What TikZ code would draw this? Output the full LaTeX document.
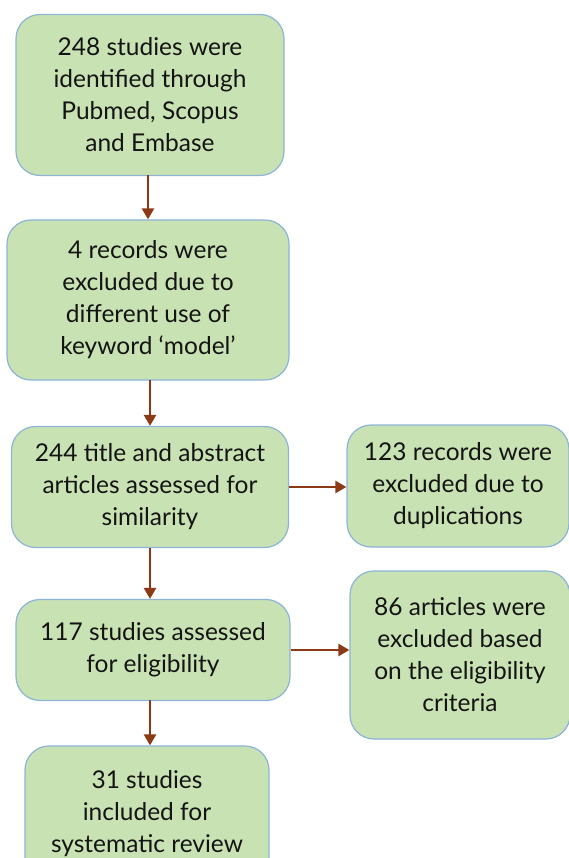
\documentclass[tikz,border=0pt]{standalone}
\usepackage{fontspec}
\setmainfont{Lato}
\usetikzlibrary{arrows.meta}
\definecolor{boxfill}{RGB}{201,226,180}
\definecolor{boxline}{RGB}{140,180,215}
\definecolor{arrowc}{RGB}{140,58,22}
\definecolor{txt}{RGB}{20,20,20}
\tikzset{
  flowbox/.style={draw=boxline, line width=1.2pt, fill=boxfill, rounded corners=24pt,
    align=center, text=txt, font=\fontsize{24.5}{32}\selectfont, inner sep=0pt},
  flowarrow/.style={draw=arrowc, line width=2.5pt, -{Triangle[length=11pt,width=12pt]}}
}
\begin{document}
\begin{tikzpicture}[x=1pt,y=-1pt]
\useasboundingbox (0,0) rectangle (568,858);
\node[flowbox, minimum width=268pt, minimum height=161pt] (b1) at (150,95)
  {248 studies were\\identified through\\Pubmed, Scopus\\and Embase};
\node[flowbox, minimum width=282pt, minimum height=160pt] (b2) at (148,300)
  {4 records were\\excluded due to\\different use of\\keyword `model'};
\node[flowbox, minimum width=277pt, minimum height=121pt] (b3) at (150,487)
  {244 title and abstract\\articles assessed for\\similarity};
\node[flowbox, minimum width=222pt, minimum height=122pt] (b4) at (458,486)
  {123 records were\\excluded due to\\duplications};
\node[flowbox, minimum width=274pt, minimum height=101pt] (b5) at (153,650)
  {117 studies assessed\\for eligibility};
\node[flowbox, minimum width=220pt, minimum height=168pt] (b6) at (460,655)
  {86 articles were\\excluded based\\on the eligibility\\criteria};
\node[flowbox, minimum width=244pt, minimum height=136pt] (b7) at (147,814)
  {31 studies\\included for\\systematic review};
\coordinate (a1s) at (148,175);
\coordinate (a2s) at (150,380);
\coordinate (a4s) at (150,548);
\coordinate (a5s) at (150,700);
\draw[flowarrow] (a1s) -- (a1s |- b2.north);
\draw[flowarrow] (a2s) -- (a2s |- b3.north);
\draw[flowarrow] (a4s) -- (a4s |- b5.north);
\draw[flowarrow] (a5s) -- (a5s |- b7.north);
\draw[flowarrow] (b3.east) -- (b3.east -| b4.west);
\draw[flowarrow] (b5.east) -- (b5.east -| b6.west);
\end{tikzpicture}
\end{document}
